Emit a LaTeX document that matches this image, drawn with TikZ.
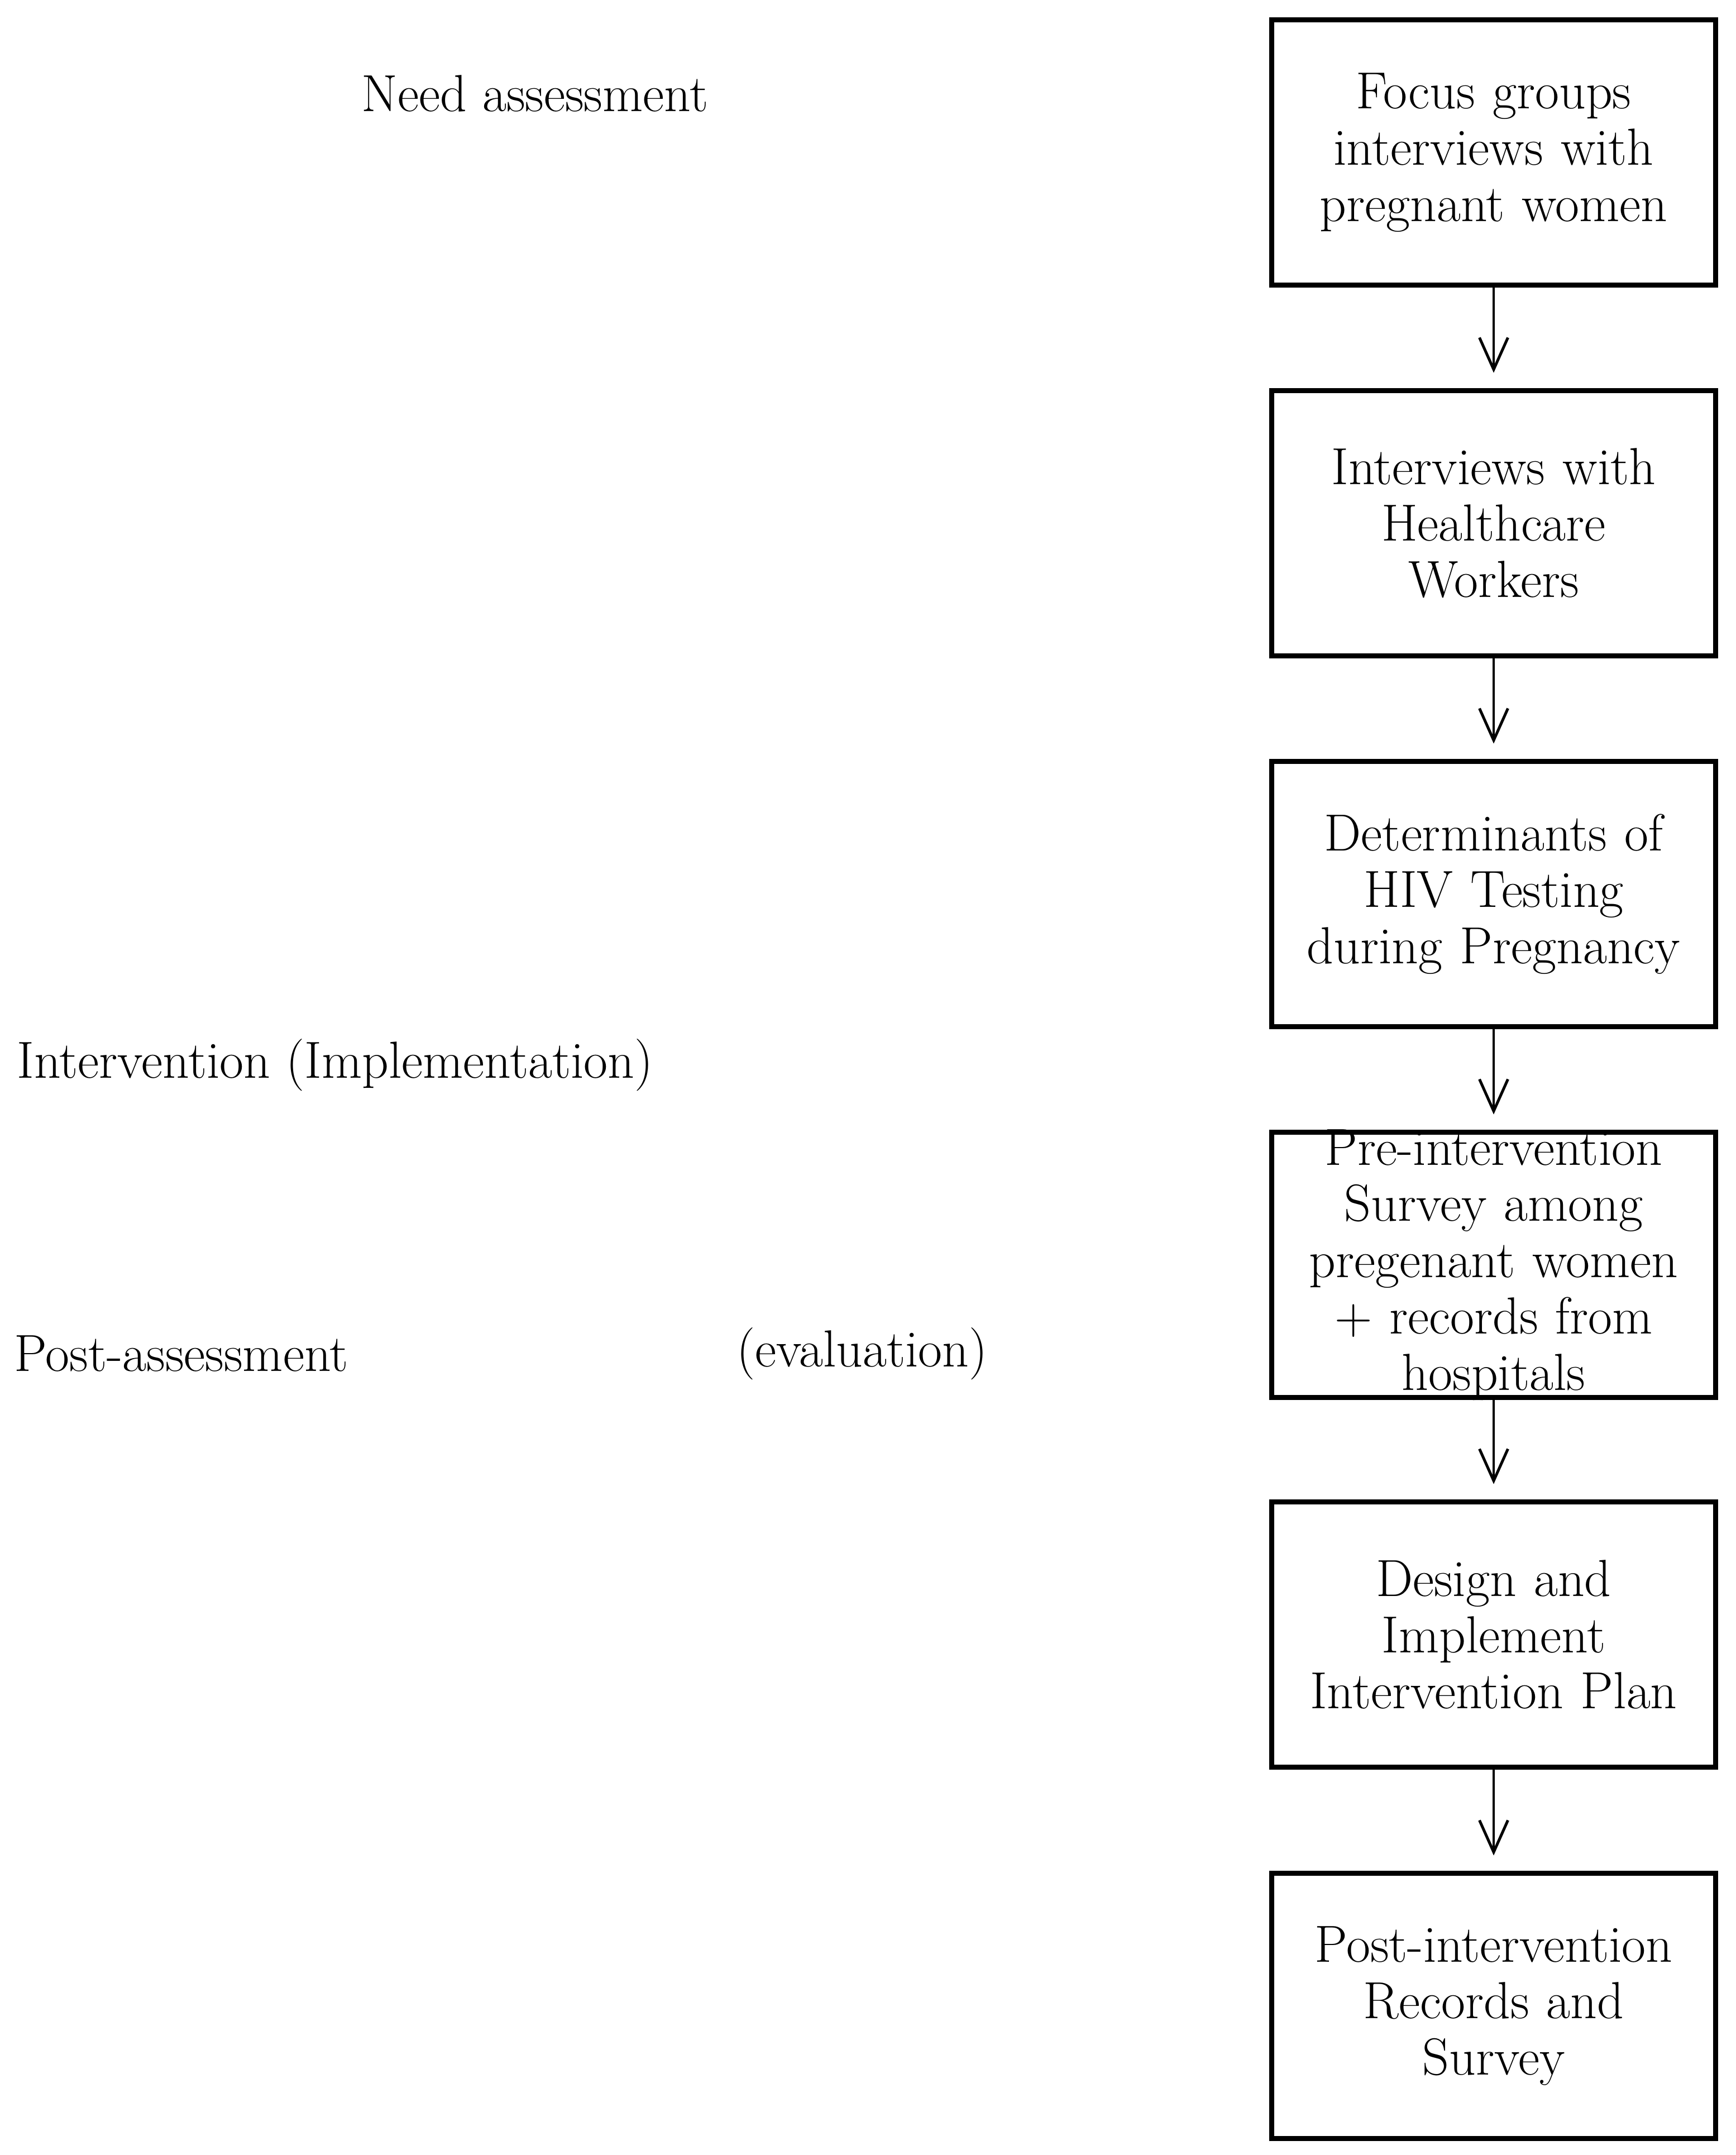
\documentclass[tikz,border=0pt]{standalone}
\usetikzlibrary{arrows.meta}

\begin{document}
\begin{tikzpicture}[
	stage/.style={draw, line width=2.8pt, minimum width=7.95cm, minimum height=4.75cm,
		text width=7.6cm, align=center, inner sep=0pt, font=\fontsize{26.6}{28.7}\selectfont},
	phase/.style={anchor=west, inner sep=0pt, font=\fontsize{26.6}{28.7}\selectfont},
	flow/.style={line width=1.4pt, -{Straight Barb[length=5.7mm, width=5.1mm]}, shorten >=0.27cm}
	]
	%%%%% START %%%%%
	
	\useasboundingbox (0, 0) rectangle (31.08, -38.59);
	
	% phases on the left
	\node[phase] (need) at (6.47, -1.67) {Need assessment};
	\node[phase] (interv) at (0.30, -19.07) {Intervention (Implementation)};
	\node[phase] (post) at (0.25, -24.24) {Post-assessment};
	\node[phase] (eval) at (13.19, -24.24) {(evaluation)};
	
	% steps on the right
	\node[stage] (focus) at (26.75, -2.73) {Focus groups\\interviews with\\pregnant women};
	\node[stage] (hcw) at (26.75, -9.37) {Interviews with\\Healthcare\\Workers};
	\node[stage] (determ) at (26.75, -16.01) {Determinants of\\HIV Testing\\during Pregnancy};
	\node[stage, inner ysep=-3pt] (pre) at (26.75, -22.65) {Pre-intervention\\Survey among\\pregenant women\\+ records from\\hospitals};
	\node[stage] (design) at (26.75, -29.27) {Design and\\Implement\\Intervention Plan};
	\node[stage] (postint) at (26.75, -35.92) {Post-intervention\\Records and\\Survey};
	
	\draw[flow] (focus) -- (hcw);
	\draw[flow] (hcw) -- (determ);
	\draw[flow] (determ) -- (pre);
	\draw[flow] (pre) -- (design);
	\draw[flow] (design) -- (postint);
	
	%%%%% END %%%%%
\end{tikzpicture}
\end{document}
